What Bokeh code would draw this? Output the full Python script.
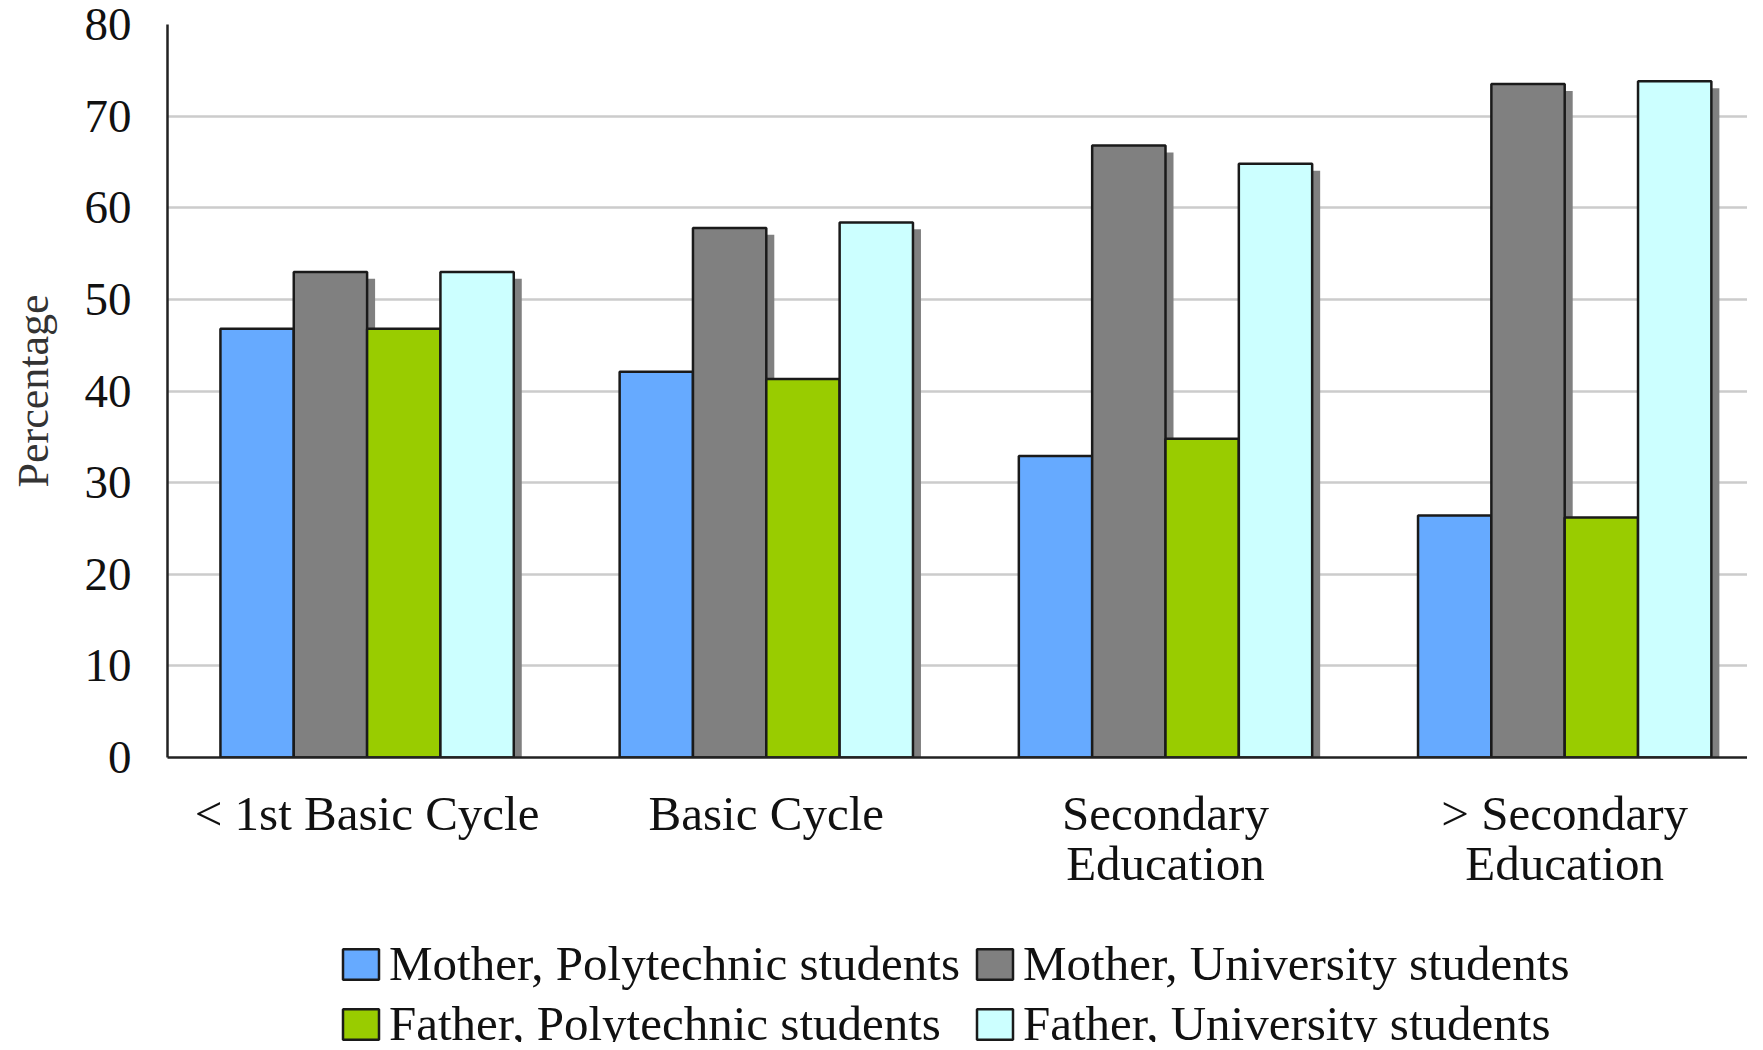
from bokeh.plotting import figure
from bokeh.layouts import column
from bokeh.models import Range1d, FixedTicker, Legend, LegendItem, ColumnDataSource
from bokeh.embed import file_html
from bokeh.resources import INLINE

# ---- data ----
categories = ["< 1st Basic Cycle", "Basic Cycle", "Secondary\nEducation", "> Secondary\nEducation"]
series_names = ["Mother, Polytechnic students", "Mother, University students",
                "Father, Polytechnic students", "Father, University students"]
mother_poly = [46.8, 42.1, 32.9, 26.4]
mother_univ = [53.0, 57.8, 66.8, 73.5]
father_poly = [46.8, 41.3, 34.8, 26.2]
father_univ = [53.0, 58.4, 64.8, 73.8]
y_ticks = [0, 10, 20, 30, 40, 50, 60, 70, 80]

series_values = [mother_poly, mother_univ, father_poly, father_univ]
colors = ["#66AAFF", "#808080", "#99CC00", "#CCFFFF"]

# ---- geometry ----
W = 1747
H1 = 907
H2 = 1042 - H1
LEFT = 167
CAT_PX = 399.2
FRAME_W = W - LEFT
BAR_W = 0.1837
offsets = [-1.5 * BAR_W, -0.5 * BAR_W, 0.5 * BAR_W, 1.5 * BAR_W]
SH_DX = 8 / CAT_PX
SH_DY = 0.76
centers = [i + 0.5 for i in range(len(categories))]

FONT = "Liberation Serif"

p = figure(width=W, height=H1,
           x_range=Range1d(0, FRAME_W / CAT_PX), y_range=Range1d(0, 80),
           output_backend="svg", toolbar_location=None,
           min_border_left=LEFT, min_border_right=0, min_border_top=24, min_border_bottom=150,
           outline_line_color=None)

# shadows
for vals, off in zip(series_values, offsets):
    src = ColumnDataSource(dict(x=[c + off + SH_DX for c in centers],
                                top=[v - SH_DY for v in vals]))
    p.vbar(x="x", top="top", bottom=0, width=BAR_W, source=src,
           fill_color="#808080", line_color=None)

# bars
for vals, off, col in zip(series_values, offsets, colors):
    src = ColumnDataSource(dict(x=[c + off for c in centers], top=vals))
    p.vbar(x="x", top="top", bottom=0, width=BAR_W, source=src,
           fill_color=col, line_color="#1a1a1a", line_width=2.5)

# axes
p.xgrid.grid_line_color = None
p.ygrid.ticker = FixedTicker(ticks=y_ticks)
p.ygrid.grid_line_color = "#cccccc"
p.ygrid.grid_line_width = 2.5

p.yaxis.ticker = FixedTicker(ticks=y_ticks)
p.yaxis.major_tick_line_color = None
p.yaxis.minor_tick_line_color = None
p.yaxis.axis_line_color = "#222222"
p.yaxis.axis_line_width = 2.5
p.yaxis.major_label_text_font = FONT
p.yaxis.major_label_text_font_size = "47px"
p.yaxis.major_label_text_line_height = 0.9
p.yaxis.major_label_text_color = "#111111"
p.yaxis.major_label_standoff = 30
p.yaxis.axis_label = "Percentage"
p.yaxis.axis_label_text_font = FONT
p.yaxis.axis_label_text_font_style = "normal"
p.yaxis.axis_label_text_font_size = "44px"
p.yaxis.axis_label_text_color = "#333333"
p.yaxis.axis_label_standoff = 24

p.xaxis.ticker = FixedTicker(ticks=centers)
p.xaxis.major_label_overrides = {c: lab for c, lab in zip(centers, categories)}
p.xaxis.major_tick_line_color = None
p.xaxis.minor_tick_line_color = None
p.xaxis.axis_line_color = "#222222"
p.xaxis.axis_line_width = 2.5
p.xaxis.major_label_text_font = FONT
p.xaxis.major_label_text_font_size = "49px"
p.xaxis.major_label_text_line_height = 0.92
p.xaxis.major_label_text_color = "#111111"
p.xaxis.major_label_standoff = 22

# legend (own strip below the chart; its frame lines up with the chart frame)
p2 = figure(width=W, height=H2, x_range=Range1d(0, 1), y_range=Range1d(0, 1),
            output_backend="svg", toolbar_location=None,
            x_axis_location=None, y_axis_location=None,
            min_border=0, outline_line_color=None)
p2.grid.visible = False
leg_renderers = []
for col in colors:
    # legend-only renderers: NaN position, so nothing is drawn in the strip
    r = p2.vbar(x=[float("nan")], top=[1], bottom=0, width=0.1,
                fill_color=col, line_color="#1a1a1a", line_width=2.5)
    leg_renderers.append(r)

items = [LegendItem(label=n, renderers=[r]) for n, r in zip(series_names, leg_renderers)]
# legend fills column by column: order so rows read Mother / Father
items = [items[0], items[2], items[1], items[3]]
legend = Legend(items=items, location=(171, -10), ncols=2,
                label_text_font=FONT, label_text_font_size="49px", label_text_color="#111111",
                glyph_width=45, glyph_height=38, label_standoff=6, spacing=3,
                label_width=580, padding=0, margin=0,
                border_line_color=None, background_fill_alpha=0)
p2.add_layout(legend)

open("out.html", "w").write(file_html(column(p, p2, spacing=0), INLINE))
